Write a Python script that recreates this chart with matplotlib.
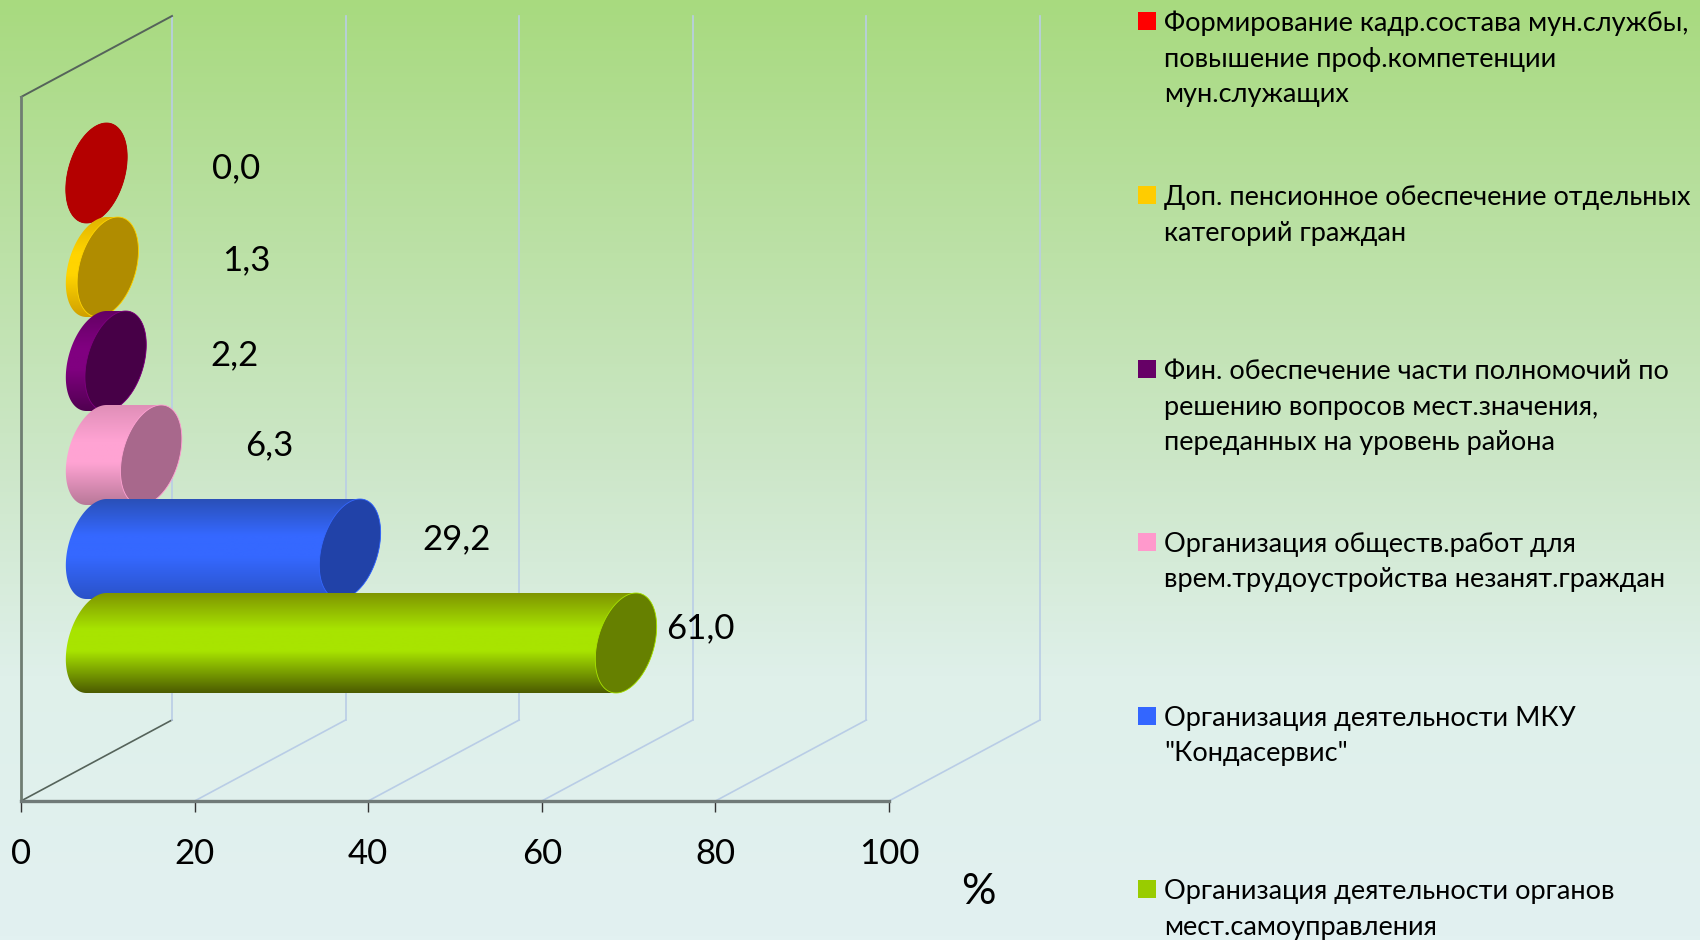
import matplotlib
matplotlib.use("Agg")
import matplotlib.pyplot as plt
import numpy as np
from matplotlib.colors import LinearSegmentedColormap
from matplotlib.patches import Polygon, Rectangle

plt.rcParams['font.family'] = ['Lato', 'Open Sans', 'DejaVu Sans']

# data, red at the top of the stack
labels = [
    ["Формирование кадр.состава мун.службы,", "повышение проф.компетенции", "мун.служащих"],
    ["Доп. пенсионное обеспечение отдельных", "категорий граждан"],
    ["Фин. обеспечение части полномочий по", "решению вопросов мест.значения,", "переданных на уровень района"],
    ["Организация обществ.работ для", "врем.трудоустройства незанят.граждан"],
    ["Организация деятельности МКУ", "\"Кондасервис\""],
    ["Организация деятельности органов", "мест.самоуправления"],
]
values = [0.0, 1.3, 2.2, 6.3, 29.2, 61.0]
value_texts = ["0,0", "1,3", "2,2", "6,3", "29,2", "61,0"]
xticks = [0, 20, 40, 60, 80, 100]

swatch = ["#ff0000", "#ffcc00", "#660066", "#ff99cc", "#3366ff", "#99cc00"]
caps = ["#b40000", "#b08c00", "#470047", "#a8688c", "#2142a8", "#668000"]
shades = [
    ["#b40000", "#b40000", "#b40000"],
    ["#e0b400", "#ffd400", "#d0a000"],
    ["#640064", "#800080", "#500050"],
    ["#e08fb8", "#ffa3d3", "#b87898"],
    ["#2a50b8", "#3568ff", "#2a52c8"],
    ["#7f9600", "#a8e400", "#4c5c00"],
]
# label offset from the value point, in pixels
label_dx = [215, 214, 194, 194, 182, 150]
label_dy = [5, 7, 6, 10, 10, 15]
legend_base = [31, 205, 379, 552, 726, 899]

W, H = 1700, 940
fig = plt.figure("chart", figsize=(W/100, H/100), dpi=100)

# background gradient
bg = fig.add_axes([0, 0, 1, 1], zorder=-1)
bg_cmap = LinearSegmentedColormap.from_list("bg", [
    (0, "#a8da7f"), (0.5, "#cde7c9"), (0.72, "#dff0ea"), (1, "#e2f1f1")])
bg.imshow(np.linspace(0, 1, 256).reshape(-1, 1), cmap=bg_cmap, aspect="auto")
bg.axis("off")

x0, x100, y_floor, y_top = 21, 889, 801, 97
ax = fig.add_axes([x0/W, 1-y_floor/H, (x100-x0)/W, (y_floor-y_top)/H])
ax.patch.set_alpha(0)
px_x = (x100-x0)/100
px_y = 94
ymin, ymax = -(y_floor-643)/px_y, (643-y_top)/px_y
ax.set_xlim(0, 100)
ax.set_ylim(ymin, ymax)

# depth of the 3d box
dx = 151/px_x
dy = 81/px_y
grid = "#b9cde6"
wall = "#6f7d72"
for t in xticks:
    c = "#55635a" if t == 0 else grid
    ax.plot([t, t+dx], [ymin, ymin+dy], color=c, lw=1.2, clip_on=False, zorder=1)
    ax.plot([t+dx, t+dx], [ymin+dy, ymax+dy], color=grid, lw=1.2, clip_on=False, zorder=1)
ax.plot([0, dx], [ymax, ymax+dy], color="#55635a", lw=1.4, clip_on=False, zorder=1)

# cylinders, from the bottom up so the upper ones overlap
a, k, b = 29/px_x, 10/px_x, 50/px_y
start = 75.5/px_x
t = np.linspace(0, 2*np.pi, 200)


def ring(cx, cy, tt):
    return cx + a*np.cos(tt) + k*np.sin(tt), cy + b*np.sin(tt)


n = len(values)
for i in range(n-1, -1, -1):
    pos = n-1-i
    v = values[i]
    end = start + v
    zo = 3 + 2*i
    lx, ly = ring(start, pos, np.linspace(np.pi/2, 3*np.pi/2, 100))
    rx, ry = ring(end, pos, np.linspace(3*np.pi/2, 5*np.pi/2, 100))
    body = Polygon(np.column_stack([np.r_[lx, rx], np.r_[ly, ry]]), closed=True,
                   fc="none", ec="none", transform=ax.transData)
    ax.add_patch(body)
    cmap = LinearSegmentedColormap.from_list("c%d" % i, [
        (0, shades[i][0]), (0.36, shades[i][1]), (0.58, shades[i][1]), (1, shades[i][2])])
    im = ax.imshow(np.linspace(0, 1, 128).reshape(-1, 1), cmap=cmap, aspect="auto", origin="upper",
                   extent=[start-5, end+5, pos-b, pos+b], zorder=zo, clip_on=True)
    im.set_clip_path(body)
    ex, ey = ring(end, pos, t)
    ax.fill(ex, ey, fc=caps[i], ec=shades[i][1], lw=0.6, zorder=zo+1, clip_on=False)
    ax.annotate(value_texts[i], xy=(v, pos), xytext=(label_dx[i], label_dy[i]),
                textcoords="offset pixels", ha="center", va="center",
                fontsize=25, color="black", zorder=30)
ax.set_xlim(0, 100)
ax.set_ylim(ymin, ymax)

ax.set_yticks([])
ax.set_xticks(xticks)
ax.set_xticklabels([str(t) for t in xticks], fontsize=25)
ax.tick_params(axis="x", length=8, width=1, color="#333333", pad=19)
for s in ["top", "right"]:
    ax.spines[s].set_visible(False)
ax.spines["left"].set_color(wall)
ax.spines["left"].set_linewidth(2)
ax.spines["bottom"].set_color("#707a78")
ax.spines["bottom"].set_linewidth(2.4)

fig.text(978/W, 1-892/H, "%", fontsize=31, ha="center", va="center")

# legend
for i in range(n):
    base = legend_base[i]
    fig.add_artist(Rectangle((1138/W, 1-(base-1)/H), 18/W, 18/H, fc=swatch[i], ec="none",
                             transform=fig.transFigure))
    for j, line in enumerate(labels[i]):
        fig.text(1164/W, 1-(base+35.5*j)/H, line, fontsize=19.5, va="baseline", ha="left", color="black")

fig.savefig("out.png", dpi=100)
